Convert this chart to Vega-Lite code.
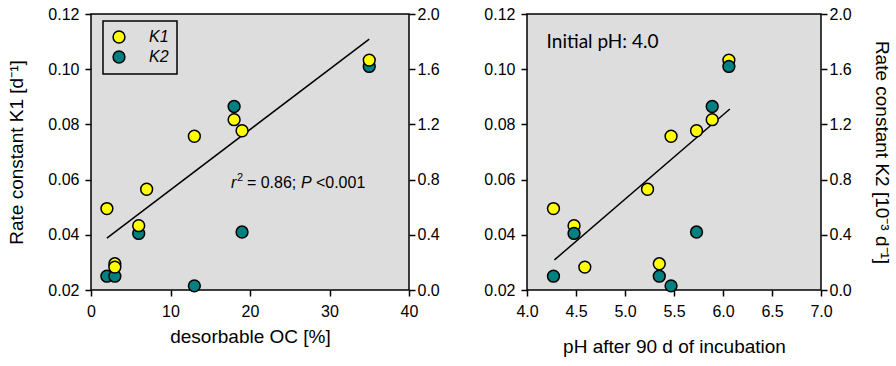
{
  "$schema": "https://vega.github.io/schema/vega-lite/v6.json",
  "background": "white",
  "padding": {"left": 7, "top": 5, "right": 5, "bottom": 5},
  "spacing": 43,
  "datasets": {
    "samples": [
      {"oc": 2, "ph": 4.27, "K1": 0.0495, "K2": 0.10},
      {"oc": 3, "ph": 5.35, "K1": 0.0295, "K2": 0.10},
      {"oc": 3, "ph": 4.59, "K1": 0.0283, "K2": null},
      {"oc": 6, "ph": 4.48, "K1": 0.0433, "K2": 0.41},
      {"oc": 7, "ph": 5.23, "K1": 0.0565, "K2": null},
      {"oc": 13, "ph": 5.47, "K1": 0.0757, "K2": 0.03},
      {"oc": 18, "ph": 5.89, "K1": 0.0817, "K2": 1.33},
      {"oc": 19, "ph": 5.73, "K1": 0.0777, "K2": 0.42},
      {"oc": 35, "ph": 6.06, "K1": 0.1033, "K2": 1.62}
    ],
    "fitOC": [{"oc": 2, "K1": 0.0388}, {"oc": 35, "K1": 0.1109}],
    "fitPH": [{"ph": 4.28, "K1": 0.0309}, {"ph": 6.07, "K1": 0.0856}],
    "one": [{"n": 1}]
  },
  "config": {
    "font": "Liberation Sans",
    "view": {"stroke": "black", "strokeWidth": 1.5, "fill": "#DDDDDD"},
    "axis": {
      "domain": false, "grid": false, "ticks": true,
      "tickColor": "black", "tickWidth": 1.5, "tickSize": 6,
      "labelFontSize": 16, "labelColor": "black", "labelFont": "Liberation Sans",
      "labelFlush": false, "labelOverlap": false, "labelBound": false,
      "titleFontSize": 19, "titleFontWeight": "normal", "titleColor": "black", "titleFont": "Liberation Sans"
    },
    "legend": {
      "strokeColor": "black", "strokeWidth": 1.5, "padding": 8, "rowPadding": 2,
      "labelFontSize": 16, "labelFontStyle": "italic", "labelColor": "black", "labelFont": "Liberation Sans",
      "symbolSize": 140, "symbolStrokeColor": "black", "symbolStrokeWidth": 1.5, "labelOffset": 22
    }
  },
  "resolve": {"scale": {"color": "independent"}, "legend": {"color": "independent"}},
  "hconcat": [
    {
      "width": 318, "height": 276,
      "resolve": {"scale": {"y": "independent"}},
      "layer": [
        {
          "data": {"name": "samples"},
          "mark": {"type": "point", "shape": "circle", "filled": true, "size": 140, "stroke": "black", "strokeWidth": 1.5, "opacity": 1},
          "encoding": {
            "x": {"field": "oc", "type": "quantitative", "scale": {"domain": [0, 40], "nice": false, "zero": false}},
            "y": {"field": "K2", "type": "quantitative", "scale": {"domain": [0, 2], "nice": false, "zero": false},
                  "axis": {"orient": "right", "title": null, "values": [0, 0.4, 0.8, 1.2, 1.6, 2.0], "format": ".1f", "labelPadding": 2}},
            "color": {"datum": "K2", "type": "nominal",
                      "scale": {"domain": ["K1", "K2"], "range": ["#FFFF00", "#008080"]},
                      "legend": {"title": null, "orient": "none", "legendX": 12, "legendY": 7}}
          }
        },
        {
          "layer": [
            {
              "data": {"name": "fitOC"},
              "mark": {"type": "line", "color": "black", "strokeWidth": 1.5},
              "encoding": {
                "x": {"field": "oc", "type": "quantitative",
                      "axis": {"title": "desorbable OC [%]", "values": [0, 10, 20, 30, 40], "format": "d", "labelPadding": 7, "titlePadding": 8}},
                "y": {"field": "K1", "type": "quantitative", "scale": {"domain": [0.02, 0.12], "nice": false, "zero": false},
                      "axis": {"orient": "left", "title": "Rate constant K1 [d⁻¹]", "values": [0.02, 0.04, 0.06, 0.08, 0.10, 0.12], "format": ".2f", "labelPadding": 6, "titlePadding": 21}}
              }
            },
            {
              "data": {"name": "samples"},
              "mark": {"type": "point", "shape": "circle", "filled": true, "size": 140, "stroke": "black", "strokeWidth": 1.5, "opacity": 1},
              "encoding": {
                "x": {"field": "oc", "type": "quantitative"},
                "y": {"field": "K1", "type": "quantitative"},
                "color": {"datum": "K1", "type": "nominal"}
              }
            },
            {
              "data": {"name": "one"},
              "mark": {"type": "text", "text": "r", "fontStyle": "italic", "fontSize": 16, "align": "left", "baseline": "alphabetic", "color": "black"},
              "encoding": {"x": {"datum": 17.6}, "y": {"datum": 0.057}}
            },
            {
              "data": {"name": "one"},
              "mark": {"type": "text", "text": "2", "fontSize": 11, "align": "left", "baseline": "alphabetic", "dx": 6, "dy": -7, "color": "black"},
              "encoding": {"x": {"datum": 17.6}, "y": {"datum": 0.057}}
            },
            {
              "data": {"name": "one"},
              "mark": {"type": "text", "text": "= 0.86;", "fontSize": 16, "align": "left", "baseline": "alphabetic", "dx": 16, "color": "black"},
              "encoding": {"x": {"datum": 17.6}, "y": {"datum": 0.057}}
            },
            {
              "data": {"name": "one"},
              "mark": {"type": "text", "text": "P", "fontStyle": "italic", "fontSize": 16, "align": "left", "baseline": "alphabetic", "dx": 70, "color": "black"},
              "encoding": {"x": {"datum": 17.6}, "y": {"datum": 0.057}}
            },
            {
              "data": {"name": "one"},
              "mark": {"type": "text", "text": "<0.001", "fontSize": 16, "align": "left", "baseline": "alphabetic", "dx": 85, "color": "black"},
              "encoding": {"x": {"datum": 17.6}, "y": {"datum": 0.057}}
            }
          ]
        }
      ]
    },
    {
      "width": 294, "height": 276,
      "resolve": {"scale": {"y": "independent"}},
      "layer": [
        {
          "layer": [
            {
              "data": {"name": "fitPH"},
              "mark": {"type": "line", "color": "black", "strokeWidth": 1.5},
              "encoding": {
                "x": {"field": "ph", "type": "quantitative", "scale": {"domain": [4, 7], "nice": false, "zero": false},
                      "axis": {"title": "pH after 90 d of incubation", "values": [4, 4.5, 5, 5.5, 6, 6.5, 7], "format": ".1f", "labelPadding": 7, "titlePadding": 18}},
                "y": {"field": "K1", "type": "quantitative", "scale": {"domain": [0.02, 0.12], "nice": false, "zero": false},
                      "axis": {"orient": "left", "title": null, "values": [0.02, 0.04, 0.06, 0.08, 0.10, 0.12], "format": ".2f", "labelPadding": 6}}
              }
            },
            {
              "data": {"name": "samples"},
              "mark": {"type": "point", "shape": "circle", "filled": true, "size": 140, "stroke": "black", "strokeWidth": 1.5, "opacity": 1},
              "encoding": {
                "x": {"field": "ph", "type": "quantitative"},
                "y": {"field": "K1", "type": "quantitative"},
                "color": {"datum": "K1", "type": "nominal",
                          "scale": {"domain": ["K1", "K2"], "range": ["#FFFF00", "#008080"]}, "legend": null}
              }
            },
            {
              "data": {"name": "one"},
              "mark": {"type": "text", "text": "Initial pH: 4.0", "font": "Lato", "fontSize": 19, "align": "left", "baseline": "alphabetic", "color": "black"},
              "encoding": {"x": {"datum": 4.2}, "y": {"datum": 0.1077}}
            }
          ]
        },
        {
          "data": {"name": "samples"},
          "mark": {"type": "point", "shape": "circle", "filled": true, "size": 140, "stroke": "black", "strokeWidth": 1.5, "opacity": 1},
          "encoding": {
            "x": {"field": "ph", "type": "quantitative"},
            "y": {"field": "K2", "type": "quantitative", "scale": {"domain": [0, 2], "nice": false, "zero": false},
                  "axis": {"orient": "right", "title": "Rate constant K2 [10⁻³ d⁻¹]", "values": [0, 0.4, 0.8, 1.2, 1.6, 2.0], "format": ".1f", "labelPadding": 2, "titlePadding": 20}},
            "color": {"datum": "K2", "type": "nominal", "legend": null}
          }
        }
      ]
    }
  ]
}
